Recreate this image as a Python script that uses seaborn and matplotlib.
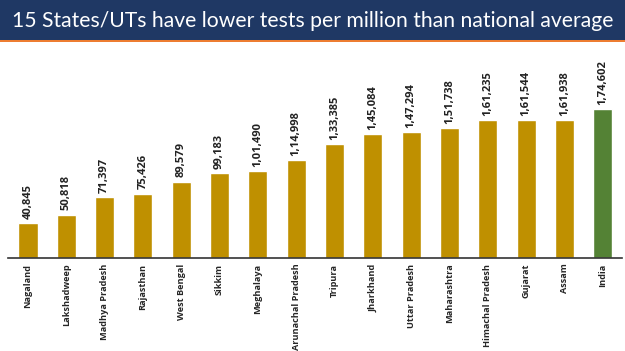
import matplotlib
matplotlib.use('Agg')
import matplotlib.pyplot as plt
from matplotlib.patches import Rectangle
import seaborn as sns

states = ['Nagaland', 'Lakshadweep', 'Madhya Pradesh', 'Rajasthan', 'West Bengal',
          'Sikkim', 'Meghalaya', 'Arunachal Pradesh', 'Tripura', 'Jharkhand',
          'Uttar Pradesh', 'Maharashtra', 'Himachal Pradesh', 'Gujarat', 'Assam', 'India']
tests_per_million = [40845, 50818, 71397, 75426, 89579, 99183, 101490, 114998,
                     133385, 145084, 147294, 151738, 161235, 161544, 161938, 174602]
title = '15 States/UTs have lower tests per million than national average'

GOLD = '#BF9000'
GREEN = '#548235'


def indian_format(n):
    s = str(int(round(n)))
    if len(s) <= 3:
        return s
    head, tail = s[:-3], s[-3:]
    parts = []
    while len(head) > 2:
        parts.insert(0, head[-2:])
        head = head[:-2]
    if head:
        parts.insert(0, head)
    return ','.join(parts) + ',' + tail


sns.set_style('white')
plt.rcParams['font.family'] = ['Open Sans', 'DejaVu Sans']

fig = plt.figure(figsize=(6.25, 3.51), dpi=100)
ax = fig.add_axes([8 / 625, 93 / 351, 614 / 625, 208 / 351])

palette = [GREEN if s == 'India' else GOLD for s in states]
sns.barplot(x=states, y=tests_per_million, hue=states, palette=palette,
            legend=False, width=0.5, saturation=1, ax=ax)

for container in ax.containers:
    ax.bar_label(container, labels=[indian_format(v) for v in container.datavalues],
                 rotation=90, padding=3, fontsize=8, fontweight='bold', color='#222222')

ax.set_xlim(-0.52, 15.5)
ax.set_ylim(0, 243600)
ax.set_yticks([])
ax.set_xlabel('')
ax.set_ylabel('')
for side in ['top', 'right', 'left']:
    ax.spines[side].set_visible(False)
ax.spines['bottom'].set_color('#333333')
ax.spines['bottom'].set_linewidth(1.2)
ax.tick_params(axis='x', length=0, pad=4)
ax.set_xticks(range(len(states)))
ax.set_xticklabels(states, rotation=90, fontsize=6.6, fontweight='bold', va='top')

# title banner
fig.add_artist(Rectangle((0, 1 - 40 / 351), 1, 40 / 351, transform=fig.transFigure,
                         facecolor='#1F3864', edgecolor='none'))
fig.add_artist(Rectangle((0, 1 - 42 / 351), 1, 2 / 351, transform=fig.transFigure,
                         facecolor='#ED7D31', edgecolor='none'))
fig.text(0.5, 1 - 21 / 351, title, color='white', fontsize=15.2,
         family=['Lato', 'DejaVu Sans'], ha='center', va='center')

fig.savefig('out.png', dpi=100)
